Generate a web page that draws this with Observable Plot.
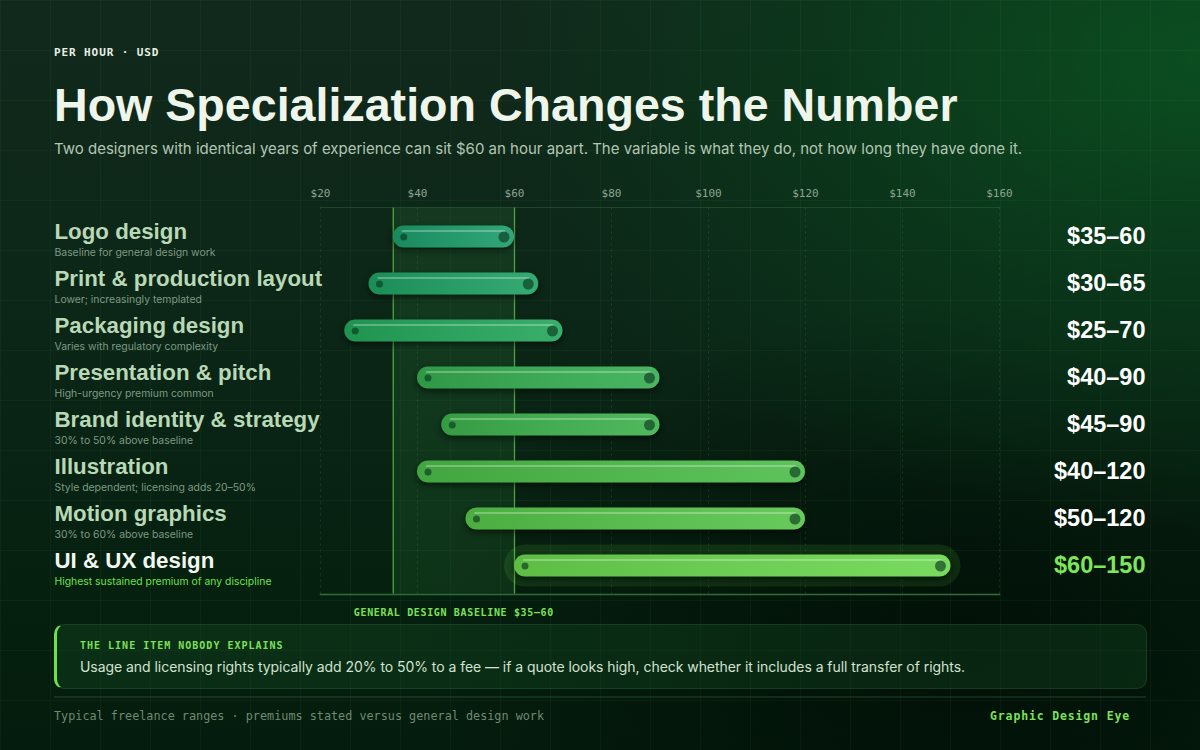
<!DOCTYPE html>
<html>
<head>
<meta charset="utf-8">
<script src="https://cdn.jsdelivr.net/npm/d3@7"></script>
<script src="https://cdn.jsdelivr.net/npm/@observablehq/plot@0.6"></script>
<style>
html,body{margin:0;padding:0;}
body{
  width:1200px;height:750px;overflow:hidden;position:relative;
  font-family:Inter,"Liberation Sans",sans-serif;
  background:
    linear-gradient(rgba(120,230,140,0.045) 1px, transparent 1px) 0 0/50px 50px,
    linear-gradient(90deg, rgba(120,230,140,0.045) 1px, transparent 1px) 0 0/50px 50px,
    radial-gradient(ellipse 75% 80% at 100% 8%, rgba(10,82,32,0.9) 0%, rgba(8,66,27,0.5) 42%, rgba(0,0,0,0) 78%),
    radial-gradient(ellipse 45% 45% at 80% 85%, rgba(0,10,4,0.7) 0%, rgba(0,0,0,0) 100%),
    linear-gradient(180deg, #11291c 0%, #0b2617 45%, #05200f 80%, #041c0d 100%);
}
.abs{position:absolute;}
#eyebrow{left:54px;top:46px;font:bold 11px "DejaVu Sans Mono",monospace;letter-spacing:0.9px;color:#e8f0e6;line-height:14px;}
#title{left:54px;top:82px;font:bold 46.6px "Liberation Sans",Arial,sans-serif;line-height:47px;color:#eef5ea;white-space:nowrap;}
#subtitle{left:54px;top:139px;font:15px Inter,sans-serif;line-height:20px;color:#b3c6b2;white-space:nowrap;}
#chart{left:0;top:170px;}
#callout{left:54px;top:624px;width:1089px;height:63px;border-radius:10px;background:rgba(22,80,38,0.32);border:1px solid rgba(120,210,130,0.12);border-left:3px solid #6ee04c;}
#callhead{left:80px;top:640px;font:bold 10px "DejaVu Sans Mono",monospace;letter-spacing:1px;color:#7ee05a;line-height:12px;}
#calltext{left:80px;top:658px;font:14px Inter,sans-serif;line-height:18px;color:#d3e2d0;white-space:nowrap;letter-spacing:-0.05px;}
#sep{left:54px;top:696px;width:1092px;height:2px;background:rgba(110,190,120,0.14);}
#footl{left:54px;top:709px;font:11.8px "DejaVu Sans Mono",monospace;color:#6d8a72;line-height:14px;white-space:nowrap;}
#footr{right:70px;top:709px;font:bold 11.5px "DejaVu Sans Mono",monospace;letter-spacing:0.85px;color:#7ee05a;line-height:14px;}
g[aria-description="bar-shadow"]{filter:blur(3px);}
g[aria-description="baseline-label"] text{letter-spacing:0.65px;}
</style>
</head>
<body>
<svg width="0" height="0" style="position:absolute">
  <defs>
    <linearGradient id="sheen" x1="0" x2="1" y1="0" y2="0">
      <stop offset="0" stop-color="#000" stop-opacity="0.12"/>
      <stop offset="1" stop-color="#fff" stop-opacity="0.10"/>
    </linearGradient>
  </defs>
</svg>
<div id="eyebrow" class="abs">PER HOUR · USD</div>
<div id="title" class="abs">How Specialization Changes the Number</div>
<div id="subtitle" class="abs">Two designers with identical years of experience can sit $60 an hour apart. The variable is what they do, not how long they have done it.</div>
<div id="chart" class="abs"></div>
<div id="callout" class="abs"></div>
<div id="callhead" class="abs">THE LINE ITEM NOBODY EXPLAINS</div>
<div id="calltext" class="abs">Usage and licensing rights typically add 20% to 50% to a fee — if a quote looks high, check whether it includes a full transfer of rights.</div>
<div id="sep" class="abs"></div>
<div id="footl" class="abs">Typical freelance ranges · premiums stated versus general design work</div>
<div id="footr" class="abs">Graphic Design Eye</div>
<script>
const categories = ["Logo design","Print & production layout","Packaging design","Presentation & pitch","Brand identity & strategy","Illustration","Motion graphics","UI & UX design"];
const notes = ["Baseline for general design work","Lower; increasingly templated","Varies with regulatory complexity","High-urgency premium common","30% to 50% above baseline","Style dependent; licensing adds 20–50%","30% to 60% above baseline","Highest sustained premium of any discipline"];
const lowRate = [35,30,25,40,45,40,50,60];
const highRate = [60,65,70,90,90,120,120,150];
const barColors = ["#1b9c69","#1ea062","#23a65a","#35ad50","#3cb14c","#4bbc48","#56c449","#6ad64e"];
const tickValues = [20,40,60,80,100,120,140,160];
const baselineRange = [35,60];
const highlighted = "UI & UX design";

const rows = categories.map((c,i)=>({
  name:c, note:notes[i], lo:lowRate[i], hi:highRate[i], color:barColors[i],
  label:`$${lowRate[i]}–${highRate[i]}`, hl:c===highlighted
}));
const band = [{lo:baselineRange[0], hi:baselineRange[1]}];

const chart = Plot.plot({
  width:1200, height:455,
  marginLeft:320, marginRight:201, marginTop:42.5, marginBottom:36.5,
  style:{background:"transparent", overflow:"visible"},
  x:{domain:[20,160], axis:null},
  y:{domain:categories, padding:0, axis:null},
  color:{type:"identity"},
  marks:[
    Plot.frame({anchor:"top", stroke:"#3c7a48", strokeOpacity:0.35, dy:-5.5}),
    Plot.ruleX(tickValues, {stroke:"#7fd08a", strokeOpacity:0.16, strokeDasharray:"2,4", insetTop:-5, insetBottom:-5}),
    Plot.rect(band, {x1:"lo", x2:"hi", fill:"#3fa84e", fillOpacity:0.14, insetTop:-5, insetBottom:-5}),
    Plot.ruleX(baselineRange, {stroke:"#4ea442", strokeWidth:1.3, insetTop:-5, insetBottom:-5}),
    Plot.frame({anchor:"bottom", stroke:"#2f6e3a", strokeWidth:1.5, dy:5.5}),
    Plot.axisX(tickValues, {anchor:"top", label:null, tickSize:0, tickPadding:16, tickFormat:d=>"$"+d, fontFamily:"DejaVu Sans Mono", fontSize:11, fill:"#8fa591"}),
    Plot.barX(rows.filter(d=>d.hl), {x1:"lo", x2:"hi", y:"name", fill:"#6fdc4a", fillOpacity:0.12, rx:21, insetTop:2.5, insetBottom:2.5, insetLeft:-10, insetRight:-10}),
    Plot.barX(rows, {x1:"lo", x2:"hi", y:"name", fill:"#000", fillOpacity:0.5, rx:11, insetTop:12.5, insetBottom:12.5, dy:3, ariaDescription:"bar-shadow"}),
    Plot.barX(rows, {x1:"lo", x2:"hi", y:"name", fill:"color", rx:11, insetTop:12.5, insetBottom:12.5}),
    Plot.barX(rows, {x1:"lo", x2:"hi", y:"name", fill:"url(#sheen)", rx:11, insetTop:12.5, insetBottom:12.5}),
    Plot.ruleY(rows, {x1:"lo", x2:"hi", y:"name", dy:-6, insetLeft:9, insetRight:9, stroke:"#ffffff", strokeOpacity:0.28, strokeWidth:2}),
    Plot.dot(rows, {x:"lo", y:"name", r:3.5, dx:10.5, fill:"#0b3a20", fillOpacity:0.65, stroke:null}),
    Plot.dot(rows, {x:"hi", y:"name", r:5.5, dx:-10.5, fill:"#0b3a20", fillOpacity:0.65, stroke:null}),
    Plot.text(rows, {y:"name", text:"name", frameAnchor:"left", dx:-266, dy:-5, textAnchor:"start", fontSize:22.3, fontWeight:700, fontFamily:"Liberation Sans", fill:d=>d.hl?"#f2f7ef":"#b9d8b5"}),
    Plot.text(rows, {y:"name", text:"note", frameAnchor:"left", dx:-266, dy:16, textAnchor:"start", fontSize:10.4, fontFamily:"Inter", fill:d=>d.hl?"#6ee04c":"#7e9a83"}),
    Plot.text(rows, {y:"name", text:"label", frameAnchor:"right", dx:146, dy:-0.5, textAnchor:"end", fontSize:23.5, fontWeight:700, fontFamily:"Liberation Sans", fill:d=>d.hl?"#7ee65a":"#ffffff"}),
    Plot.text(band, {x:d=>(d.lo+d.hi)/2, frameAnchor:"bottom", dy:27, text:d=>`GENERAL DESIGN BASELINE $${d.lo}–${d.hi}`, fontFamily:"DejaVu Sans Mono", fontSize:10, fontWeight:700, fill:"#7ee05a", ariaDescription:"baseline-label"})
  ]
});
document.getElementById("chart").appendChild(chart);
</script>
</body>
</html>
